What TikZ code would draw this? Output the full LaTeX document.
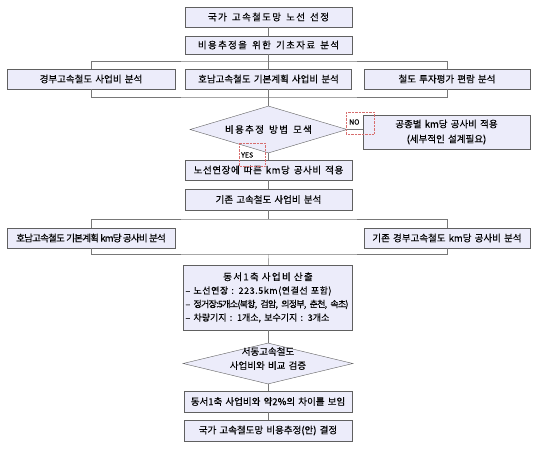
\documentclass[tikz,border=0pt]{standalone}
\usepackage{fontspec}
\setmainfont{Noto Sans CJK KR}[WordSpace=1.5,FakeBold=0.3]
\usetikzlibrary{shapes.geometric}

\definecolor{kastenfarbe}{RGB}{236,236,250}
\definecolor{randfarbe}{RGB}{96,96,96}
\definecolor{linienfarbe}{RGB}{120,120,120}
\definecolor{markrot}{RGB}{215,110,110}

% Zeichenabstand
\newfontfamily\weit{Noto Sans CJK KR}[WordSpace=1.5,LetterSpace=14,FakeBold=0.3]
\newfontfamily\mittel{Noto Sans CJK KR}[WordSpace=1.5,LetterSpace=6,FakeBold=0.3]
\newfontfamily\eng{Noto Sans CJK KR}[WordSpace=1,LetterSpace=-8,FakeBold=0.3]

\begin{document}
\begin{tikzpicture}
		[
		x=1pt, y=-1pt, font=\fontsize{9.5}{11}\selectfont, >=latex,
		%Voreinstellungen
		kasten/.style={draw=randfarbe, fill=kastenfarbe, minimum width=167pt, minimum height=20pt, inner sep=0pt},
		raute/.style={diamond, draw=randfarbe, fill=kastenfarbe, inner sep=0pt},
		linie/.style={draw=linienfarbe},
		markierung/.style={draw=markrot, densely dotted},
		klein/.style={font=\fontsize{7}{7}\selectfont, inner sep=0pt}
		]
		
		\useasboundingbox (0,0) rectangle (542,453);
		
		%oben
		\node[kasten] (route) at (268.5,17) {\weit 국가 고속철도망 노선 선정};
		\node[kasten, minimum height=18pt] (basis) at (268.5,45) {\weit 비용추정을 위한 기초자료 분석};
		
		%erste Reihe
		\node[kasten, minimum width=168pt] (gyeongbu) at (91,79) {경부고속철도 사업비 분석};
		\node[kasten, minimum width=166pt] (honam) at (268.5,79) {호남고속철도 기본계획 사업비 분석};
		\node[kasten, minimum width=166pt] (pyeollam) at (447,79) {철도 투자평가 편람 분석};
		\coordinate (br1) at (268.5,61);
		\coordinate (br2) at (268.5,97);
		
		%Entscheidung
		\node[raute, aspect=3.34, minimum width=157pt, minimum height=47pt] (methode) at (268.5,129.5) {\weit 비용추정 방법 모색};
		\node[kasten, minimum height=34pt, align=center] (gongjong) at (446.5,132) {공종별 km당 공사비 적용\\[4pt](세부적인 설계필요)};
		
		\node[kasten] (km) at (268.5,170) {\mittel 노선연장에 따른 km당 공사비 적용};
		\node[kasten, minimum height=21pt] (bestand) at (268.5,199.5) {기존 고속철도 사업비 분석};
		
		%zweite Reihe
		\node[kasten, minimum width=168pt] (honamkm) at (91,238) {\eng 호남고속철도 기본계획 km당 공사비 분석};
		\node[kasten, minimum width=166pt] (gyeongbukm) at (447,238) {기존 경부고속철도 km당 공사비 분석};
		\coordinate (br3) at (268.5,219);
		\coordinate (br4) at (268.5,254);
		
		%Berechnung
		\node[kasten, minimum width=169pt, minimum height=65pt, text width=165pt] (sanchul) at (268,297.5) {\fontsize{9.5}{13.5}\selectfont\centering{\weit 동서1축 사업비 산출}\par
			\raggedright\fontsize{9}{13.5}\selectfont {\mittel – 노선연장 : 223.5km(연결선 포함)}\\
			{\eng – 정거장:5개소(북항, 검암, 의정부, 춘천, 속초)}\\
			– 차량기지 : 1개소, 보수기지 : 3개소\par};
		
		\node[raute, minimum width=170pt, minimum height=41pt] (pruefung) at (268,363.5) {};
		\node[align=center] (pruefungtext) at (268,358.5) {서동고속철도\\[3pt]사업비와 비교 검증};
		
		\node[kasten, minimum width=168pt, minimum height=21pt] (differenz) at (268,401.5) {동서1축 사업비와 약2\%의 차이를 보임};
		\node[kasten, minimum width=168pt, minimum height=21pt] (ergebnis) at (268,430.5) {국가 고속철도망 비용추정(안) 결정};
		
		%Verbindungen
		\draw[linie] (route) -- (basis);
		\draw[linie] (basis) -- (honam);
		\draw[linie] (gyeongbu.north) |- (br1) -| (pyeollam.north);
		\draw[linie] (gyeongbu.south) |- (br2) -| (pyeollam.south);
		\draw[linie] (honam) -- (methode);
		\draw[linie] (methode.east) -- (methode.east -| gongjong.west);
		\draw[linie] (methode) -- (km);
		\draw[linie] (km) -- (bestand);
		\draw[linie] (bestand) -- (br3);
		\draw[linie] (honamkm.north) |- (br3) -| (gyeongbukm.north);
		\draw[linie] (honamkm.south) |- (br4) -| (gyeongbukm.south);
		\draw[linie] (br4) -- (sanchul);
		\draw[linie] (sanchul) -- (pruefung);
		\draw[linie] (pruefung) -- (differenz);
		\draw[linie] (differenz) -- (ergebnis);
		
		%NO / YES
		\draw[markierung] (346,112) rectangle (374,134);
		\node[klein, anchor=west] (nein) at (349,122) {NO};
		\draw[markierung] (239,143) rectangle (265,166);
		\node[klein, anchor=west] (ja) at (241,155) {YES};
		
\end{tikzpicture}
\end{document}
